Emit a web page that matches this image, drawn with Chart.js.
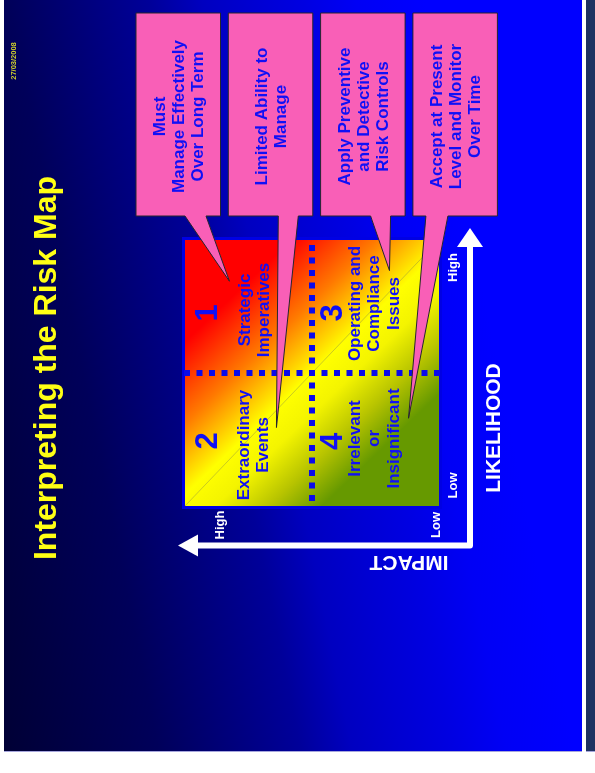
<!DOCTYPE html>
<html>
<head>
<meta charset="utf-8">
<script src="https://cdn.jsdelivr.net/npm/chart.js@4.4.1/dist/chart.umd.min.js"></script>
<style>
  html, body { margin: 0; padding: 0; background: #fff; width: 595px; height: 773px; overflow: hidden; }
  /* the slide is laid out landscape and turned a quarter turn counter-clockwise */
  #slide { position: absolute; left: 0; top: 0; width: 751px; height: 582px;
           transform-origin: 0 0; transform: translate(0, 751px) rotate(-90deg); }
  #slide canvas { display: block; }
  #edge { position: absolute; left: 586px; top: 0; width: 9px; height: 751px; background: #1f3262; }
  .rule { position: absolute; top: 751px; height: 1px; background: #a6a6dc; }
</style>
</head>
<body>
<div id="slide"><canvas id="riskMap" width="751" height="582"></canvas></div>
<div id="edge"></div>
<div class="rule" style="left:4px;width:578px"></div>
<div class="rule" style="left:586px;width:9px"></div>
<script>
// ---- content ----
const slideTitle = 'Interpreting the Risk Map';
const slideDate = '27/03/2008';

const quadrantNumbers = ['1', '2', '3', '4'];
const quadrantLikelihood = [1.5, 0.5, 1.5, 0.5];
const quadrantImpact = [1.5, 1.5, 0.5, 0.5];
const quadrantLabels = [
  ['Strategic', 'Imperatives'],
  ['Extraordinary', 'Events'],
  ['Operating and', 'Compliance', 'Issues'],
  ['Irrelevant', 'or', 'Insignificant']
];

const calloutTexts = [
  ['Must', 'Manage Effectively', 'Over Long Term'],
  ['Limited Ability to', 'Manage'],
  ['Apply Preventive', 'and Detective', 'Risk Controls'],
  ['Accept at Present', 'Level and Monitor', 'Over Time']
];
// where each callout points inside the map (likelihood, impact)
const calloutLikelihood = [1.69, 0.59, 1.77, 0.66];
const calloutImpact = [1.65, 1.28, 0.39, 0.24];

const tickLabels = ['Low', 'High'];
const axisTitles = ['LIKELIHOOD', 'IMPACT'];

// ---- styling / layout ----
const FAMILY = "'Liberation Sans', Arial, Helvetica, sans-serif";
const bold = s => 'bold ' + s + 'px ' + FAMILY;
const TEXT_BLUE = '#1010f6';
const PINK = '#f95fb7';
const SLIDE_TOP = 4; // white margin above the slide

// per-quadrant nudges: number [dx, baseline dy], label [dx, first baseline dy]
const numberNudge = [[-6.5, -31.5], [-1.5, -31.5], [-6.5, -33.5], [-2, -33.5]];
const labelNudge = [[-3.5, 1.3], [-5.5, 0.3], [3, -15.7], [1, -15.7]];

// callout boxes (slide coordinates) and where each tail leaves its box
const BOX_LEFT = 535, BOX_RIGHT = 738, BOX_TOP = 136, BOX_STEP = 92.3, BOX_H = 84.5;
const tailBase = [[49, 70], [50, 70], [50, 70], [13, 35]];

function drawDots(ctx, horizontal, fixed, from, to, centre) {
  const period = 12.5, s = 6;
  const kMin = Math.ceil((from - 1 - centre) / period);
  const kMax = Math.floor((to + 1 - centre) / period);
  for (let k = kMin; k <= kMax; k++) {
    const c = centre + k * period;
    if (horizontal) ctx.fillRect(c - s / 2, fixed - s / 2, s, s);
    else ctx.fillRect(fixed - s / 2, c - s / 2, s, s);
  }
}

const riskMapPlugin = {
  id: 'riskMap',
  beforeDraw(chart) {
    const { ctx, width, height } = chart;
    ctx.save();
    const bg = ctx.createLinearGradient(0, SLIDE_TOP, 110, SLIDE_TOP + 549);
    [[0, '#000035'], [0.27, '#00005a'], [0.52, '#00009a'], [0.61, '#0000c0'],
     [0.70, '#0000d2'], [0.79, '#0000e2'], [0.88, '#0000f5'], [1, '#0000ff']]
      .forEach(([o, c]) => bg.addColorStop(o, c));
    ctx.fillStyle = bg;
    ctx.fillRect(0, SLIDE_TOP, width, height - SLIDE_TOP);

    ctx.textAlign = 'center';
    ctx.textBaseline = 'alphabetic';
    ctx.fillStyle = '#ffff14';
    ctx.font = bold(32);
    ctx.fillText(slideTitle, 383, 56);
    ctx.fillStyle = '#d2d22c';
    ctx.font = bold(7.5);
    ctx.fillText(slideDate, 690, 15.5);
    ctx.restore();
  },
  beforeDatasetsDraw(chart) {
    const { ctx, chartArea: a, scales: { x, y } } = chart;
    ctx.save();
    // outline
    ctx.fillStyle = '#0000e4';
    ctx.fillRect(a.left - 3, a.top - 3, a.width + 6, a.height + 6);
    // red -> yellow -> green heat ramp from high/high to low/low
    const heat = ctx.createLinearGradient(x.getPixelForValue(2), y.getPixelForValue(2),
                                          x.getPixelForValue(0), y.getPixelForValue(0));
    [[0, '#ff0000'], [0.2, '#ff0000'], [0.36, '#ff7a00'], [0.5, '#ffff00'], [0.58, '#f4f400'],
     [0.68, '#b8c400'], [0.78, '#669900'], [1, '#669900']]
      .forEach(([o, c]) => heat.addColorStop(o, c));
    ctx.fillStyle = heat;
    ctx.fillRect(a.left, a.top, a.width, a.height);
    // faint diagonal
    ctx.strokeStyle = 'rgba(110,110,90,0.45)';
    ctx.lineWidth = 0.8;
    ctx.beginPath();
    ctx.moveTo(x.getPixelForValue(0), y.getPixelForValue(2));
    ctx.lineTo(x.getPixelForValue(2), y.getPixelForValue(0));
    ctx.stroke();
    // dotted dividers
    ctx.fillStyle = '#0b0bea';
    const cx = x.getPixelForValue(1), cy = y.getPixelForValue(1);
    drawDots(ctx, false, cx, a.top, a.bottom, cy);
    drawDots(ctx, true, cy, a.left, a.right, cx);
    ctx.restore();
  },
  afterDatasetsDraw(chart) {
    const { ctx, chartArea: a, scales: { x, y } } = chart;
    const pts = chart.getDatasetMeta(0).data;
    ctx.save();
    ctx.textAlign = 'center';
    ctx.textBaseline = 'alphabetic';
    ctx.fillStyle = TEXT_BLUE;
    pts.forEach((p, i) => {
      ctx.font = bold(31);
      ctx.fillText(quadrantNumbers[i], p.x + numberNudge[i][0], p.y + numberNudge[i][1]);
      ctx.font = bold(17);
      quadrantLabels[i].forEach((line, j) => {
        ctx.fillText(line, p.x + labelNudge[i][0], p.y + labelNudge[i][1] + j * 19.5);
      });
    });

    // axes with arrows
    const cornerX = a.left - 39.5, cornerY = a.bottom + 31;
    const tipX = a.right + 12, tipY = a.top - 7;
    ctx.strokeStyle = '#ffffff';
    ctx.fillStyle = '#ffffff';
    ctx.lineWidth = 6;
    ctx.lineJoin = 'round';
    ctx.beginPath();
    ctx.moveTo(tipX - 18, cornerY);
    ctx.lineTo(cornerX, cornerY);
    ctx.lineTo(cornerX, tipY + 19);
    ctx.stroke();
    ctx.beginPath();
    ctx.moveTo(tipX, cornerY);
    ctx.lineTo(tipX - 19, cornerY - 13);
    ctx.lineTo(tipX - 19, cornerY + 13);
    ctx.closePath();
    ctx.fill();
    ctx.beginPath();
    ctx.moveTo(cornerX, tipY);
    ctx.lineTo(cornerX - 11, tipY + 20);
    ctx.lineTo(cornerX + 11, tipY + 20);
    ctx.closePath();
    ctx.fill();

    // tick words
    ctx.font = bold(13);
    ctx.fillText(tickLabels[0], x.getPixelForValue(0) + 20.5, a.bottom + 18.3);
    ctx.fillText(tickLabels[1], x.getPixelForValue(2) - 27.5, a.bottom + 18.3);
    ctx.fillText(tickLabels[1], cornerX + 20.5, a.top + 38.5);
    ctx.fillText(tickLabels[0], cornerX + 20.5, a.bottom + 1);

    // axis titles
    ctx.font = bold(21);
    ctx.fillText(axisTitles[0], x.getPixelForValue(1) - 55, cornerY + 30);
    ctx.save();
    ctx.translate(cornerX - 11, y.getPixelForValue(1) + 97);
    ctx.rotate(-Math.PI / 2);
    ctx.fillText(axisTitles[1], 0, 0);
    ctx.restore();

    // callouts
    calloutTexts.forEach((lines, i) => {
      const top = BOX_TOP + i * BOX_STEP, bottom = top + BOX_H;
      const tx = x.getPixelForValue(calloutLikelihood[i]);
      const ty = y.getPixelForValue(calloutImpact[i]);
      ctx.beginPath();
      ctx.moveTo(BOX_LEFT, top);
      ctx.lineTo(BOX_RIGHT, top);
      ctx.lineTo(BOX_RIGHT, bottom);
      ctx.lineTo(BOX_LEFT, bottom);
      ctx.lineTo(BOX_LEFT, top + tailBase[i][1]);
      ctx.lineTo(tx, ty);
      ctx.lineTo(BOX_LEFT, top + tailBase[i][0]);
      ctx.closePath();
      ctx.fillStyle = PINK;
      ctx.fill();
      ctx.strokeStyle = '#26262e';
      ctx.lineWidth = 1;
      ctx.lineJoin = 'miter';
      ctx.stroke();

      ctx.fillStyle = TEXT_BLUE;
      ctx.font = bold(17);
      const mid = (top + bottom) / 2;
      const first = mid - (lines.length - 1) * 19 / 2 + 6;
      lines.forEach((line, j) => ctx.fillText(line, (BOX_LEFT + BOX_RIGHT) / 2 - 2, first + j * 19));
    });
    ctx.restore();
  }
};

new Chart(document.getElementById('riskMap'), {
  type: 'scatter',
  data: {
    datasets: [{
      label: 'Quadrants',
      data: quadrantLikelihood.map((v, i) => ({ x: v, y: quadrantImpact[i] })),
      pointRadius: 0,
      pointHoverRadius: 0
    }]
  },
  options: {
    responsive: false,
    devicePixelRatio: 1,
    animation: false,
    events: [],
    layout: { padding: { left: 245, right: 240, top: 185, bottom: 143 } },
    scales: {
      x: { type: 'linear', min: 0, max: 2, display: false },
      y: { type: 'linear', min: 0, max: 2, display: false }
    },
    plugins: { legend: { display: false }, tooltip: { enabled: false } }
  },
  plugins: [riskMapPlugin]
});
</script>
</body>
</html>
